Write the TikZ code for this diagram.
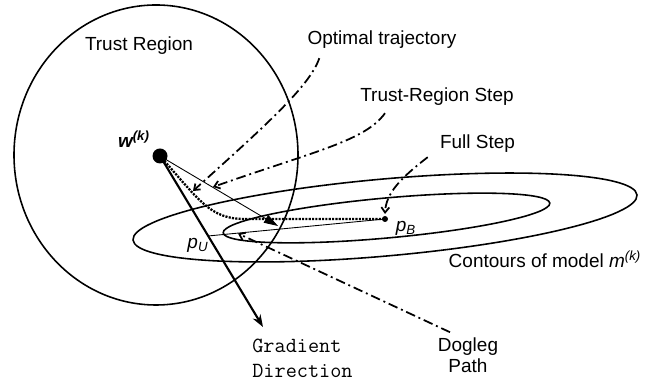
\documentclass[tikz,border=0pt]{standalone}
\usepackage{fontspec}
\setmainfont{Liberation Sans}
\usepackage{tikz}
\usetikzlibrary{arrows.meta,positioning}
\tikzset{
  % Label text
  LB/.style={font=\fontsize{10.8}{13}\selectfont,inner sep=0pt,align=center},
  LM/.style={font=\ttfamily\fontsize{12.3}{14.2}\selectfont,inner sep=0pt,align=left},
  % Dash-dot leader
  ld/.style={line width=1pt,dash pattern=on 5.5pt off 2.2pt on 1.1pt off 2.2pt,
             -{Straight Barb[length=3pt,width=4.5pt]}},
  % Arrows
  arr/.style={-{Stealth[length=7pt,width=5pt]},line width=1.2pt},
  thn/.style={-{Triangle[length=8pt,width=5pt]},line width=0.5pt},
  % Optimal path
  opt/.style={line width=1.3pt,dash pattern=on 1.2pt off 0.7pt},
  % Contours
  ct/.style={line width=0.9pt}
}
\begin{document}
\begin{tikzpicture}[x=1cm,y=1cm]
  \useasboundingbox (0,0) rectangle (13.14,7.72);
  % Trust region and model contours
  \draw[ct] (3.12,4.62) ellipse [x radius=2.84,y radius=3.00];
  \draw[ct,rotate around={5.1:(7.70,3.37)}] (7.70,3.37) ellipse [x radius=5.06,y radius=0.77];
  \draw[ct,rotate around={5.2:(7.73,3.36)}] (7.73,3.36) ellipse [x radius=3.28,y radius=0.40];
  % Points
  \coordinate (w)    at (3.20,4.60);
  \coordinate (pB)   at (7.70,3.34);
  \coordinate (pU)   at (4.16,3.00);
  \coordinate (gd)   at (5.26,1.18);
  \coordinate (ts)   at (5.56,3.20);
  \coordinate (bend) at (4.90,3.34);
  % Steps
  \draw[arr] (w) -- (gd);
  \draw[thn] (w) -- (ts);
  \draw[line width=0.5pt] (pU) -- (pB);
  \draw[opt] (w) .. controls (4.0,3.7) and (4.2,3.34) .. (bend) -- (pB);
  \fill (w) circle (0.15);
  \fill (pB) circle (0.06);
  % Labels
  \node[LB] (tr)  at (2.78,6.80) {Trust Region};
  \node[LB] (wk)  at (2.68,4.94) {\bfseries\itshape w\textsuperscript{(k)}};
  \node[LB] (ot)  at (7.64,6.92) {Optimal trajectory};
  \node[LB] (trs) at (8.74,5.78) {Trust-Region Step};
  \node[LB] (fs)  at (9.55,4.84) {Full Step};
  \node[LB] (lpB) at (8.12,3.16) {\itshape p\textsubscript{B}};
  \node[LB] (lpU) at (3.96,2.82) {\itshape p\textsubscript{U}};
  \node[LB] (cm)  at (10.90,2.54) {Contours of model \textit{m}\textsuperscript{\itshape(k)}};
  \node[LM,anchor=west] (gr) at (5.04,0.55) {Gradient\\Direction};
  \node[LB,font=\fontsize{10.8}{11.9}\selectfont] (dl) at (9.36,0.62) {Dogleg\\Path};
  % Leader ends
  \coordinate (otE)  at (3.86,3.90);
  \coordinate (trsE) at (4.26,3.98);
  \coordinate (fsE)  at (7.70,3.44);
  \coordinate (dlE)  at (4.76,3.05);
  \draw[ld] ([xshift=0.24cm,yshift=-0.18cm]ot.south west)
    .. controls (6.2,6.0) and (5.3,5.2) .. (otE);
  \draw[ld] ([xshift=0.50cm,yshift=-0.14cm]trs.south west)
    .. controls (7.3,4.9) and (6.3,4.7) .. (trsE);
  \draw[ld] ([xshift=-0.24cm,yshift=-0.08cm]fs.south west)
    .. controls (8.0,4.15) and (7.72,3.85) .. (fsE);
  \draw[ld] ([xshift=-0.36cm,yshift=0.10cm]dl.north) -- (dlE);
\end{tikzpicture}
\end{document}
